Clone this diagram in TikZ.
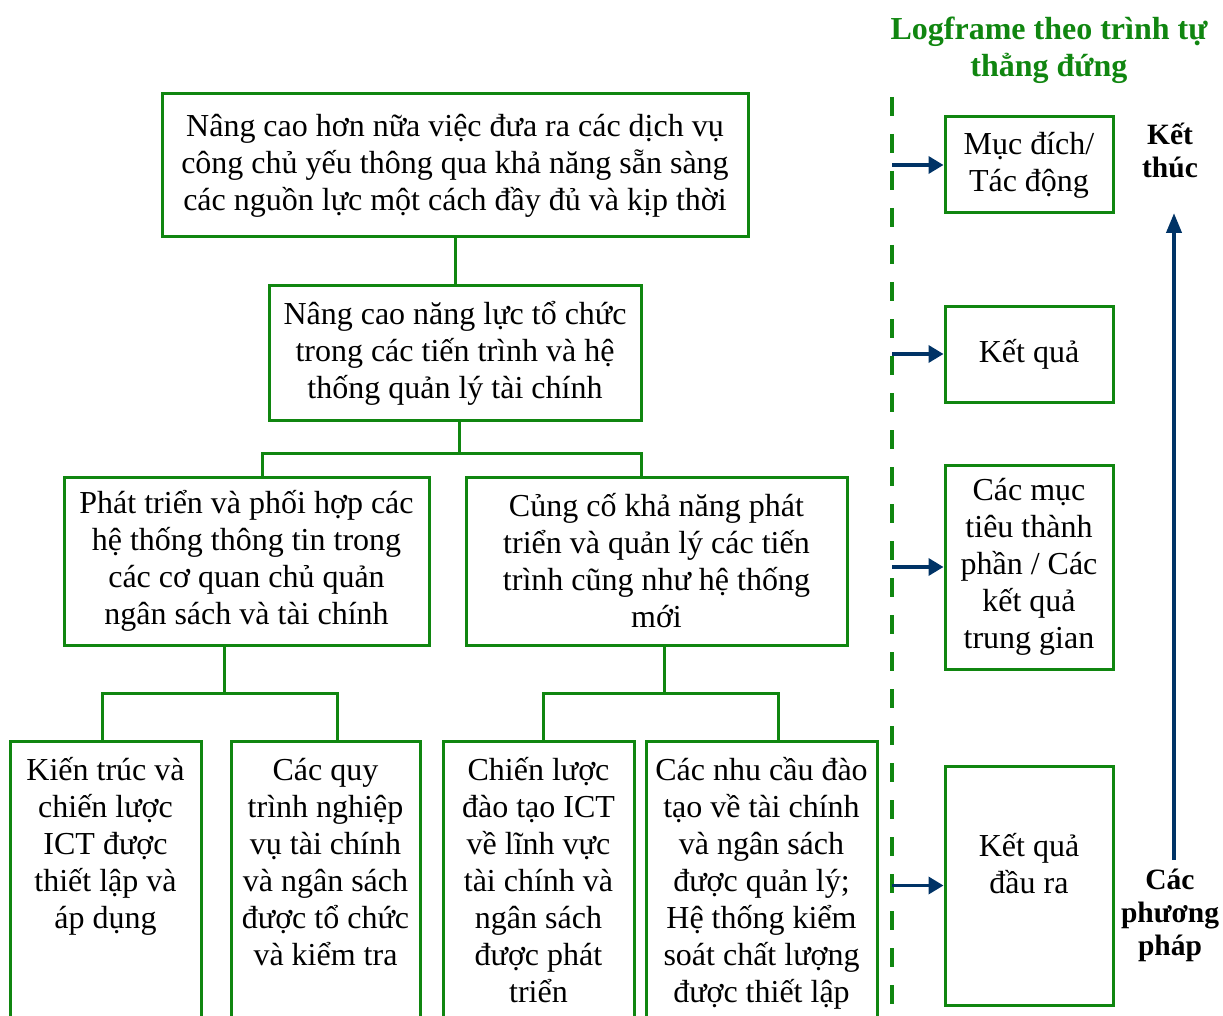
\documentclass[tikz,border=0pt]{standalone}
\usepackage{fontspec}
\setmainfont{Liberation Serif}
\usetikzlibrary{arrows.meta,calc}
\definecolor{boxgreen}{RGB}{16,134,16}
\definecolor{navy}{RGB}{0,51,102}
\tikzset{
  box/.style={draw=boxgreen, line width=3pt, inner sep=0pt, align=center,
              font=\fontsize{32}{37}\selectfont},
  txt/.style={inner sep=0pt, align=center, font=\fontsize{32}{37}\selectfont},
  side/.style={inner sep=0pt, align=center, font=\bfseries\fontsize{29.5}{33}\selectfont},
  heading/.style={inner sep=0pt, align=center, text=boxgreen,
              font=\bfseries\fontsize{32}{37}\selectfont},
  link/.style={draw=boxgreen, line width=3pt},
  guide/.style={draw=boxgreen, line width=4.5pt, dash pattern=on 19pt off 18pt},
  feed/.style={draw=navy, line width=3.5pt, -{Triangle[length=15pt,width=17pt]}},
  rise/.style={draw=navy, line width=4pt, -{Triangle[length=20pt,width=15pt]}},
}
\begin{document}
\begin{tikzpicture}[x=1pt,y=-1pt]
\useasboundingbox (0,0) rectangle (1223,1016);
\clip (0,0) rectangle (1223,1016);

% objective tree
\node[box, minimum width=586pt, minimum height=143pt] (b1) at (455,165.5)
  {Nâng cao hơn nữa việc đưa ra các dịch vụ\\công chủ yếu thông qua khả năng sẵn sàng\\các nguồn lực một cách đầy đủ và kịp thời};
\node[box, minimum width=372pt, minimum height=134pt] (b2) at (455,353)
  {Nâng cao năng lực tổ chức\\trong các tiến trình và hệ\\thống quản lý tài chính};
\node[box, minimum width=365pt, minimum height=168pt] (b3) at (246.5,561)
  {Phát triển và phối hợp các\\hệ thống thông tin trong\\các cơ quan chủ quản\\ngân sách và tài chính};
\node[box, minimum width=381pt, minimum height=168pt] (b4) at (656.5,561)
  {Củng cố khả năng phát\\triển và quản lý các tiến\\trình cũng như hệ thống\\mới};

% output boxes, running off the lower edge
\node[box, minimum width=191pt, minimum height=360pt] (b5) at (105.5,921) {};
\node[box, minimum width=189pt, minimum height=360pt] (b6) at (325.5,921) {};
\node[box, minimum width=191pt, minimum height=360pt] (b7) at (538.5,921) {};
\node[box, minimum width=231pt, minimum height=360pt] (b8) at (761.5,921) {};
% base anchor sits on the last line of each text
\node[txt, anchor=base] (t5) at (b5.center |- 0,928)
  {Kiến trúc và\\chiến lược\\ICT được\\thiết lập và\\áp dụng};
\node[txt, anchor=base] (t6) at (b6.center |- 0,965)
  {Các quy\\trình nghiệp\\vụ tài chính\\và ngân sách\\được tổ chức\\và kiểm tra};
\node[txt, anchor=base] (t7) at (b7.center |- 0,1002)
  {Chiến lược\\đào tạo ICT\\về lĩnh vực\\tài chính và\\ngân sách\\được phát\\triển};
\node[txt, anchor=base] (t8) at (b8.center |- 0,1002)
  {Các nhu cầu đào\\tạo về tài chính\\và ngân sách\\được quản lý;\\Hệ thống kiểm\\soát chất lượng\\được thiết lập};

% tree connectors
\draw[link] (b1.south) -- (b2.north);
\coordinate (j1) at (459,453);
\draw[link] (b2.south -| j1) -- (j1);
\draw[link] ([xshift=15.5pt]b3.north) |- (j1) -| ([xshift=-15.5pt]b4.north);
\coordinate (j2) at (224,693);
\draw[link] (b3.south -| j2) -- (j2);
\draw[link] ([xshift=-3.5pt]b5.north) |- (j2) -| ([xshift=11.5pt]b6.north);
\coordinate (j3) at (664,693);
\draw[link] (b4.south -| j3) -- (j3);
\draw[link] ([xshift=4.5pt]b7.north) |- (j3) -| ([xshift=16.5pt]b8.north);

% vertical logframe
\node[heading, anchor=base] (title) at (1049,77) {Logframe theo trình tự\\thẳng đứng};
\coordinate (gtop) at (892,97);
\coordinate (gbot) at (892,1030);
\draw[guide] (gtop) -- (gbot);

\node[box, minimum width=168pt, minimum height=96pt] (ra) at (1029,165) {Mục đích/\\Tác động};
\node[box, minimum width=168pt, minimum height=96pt] (rb) at (1029,354) {Kết quả};
\node[box, minimum width=168pt, minimum height=204pt] (rc) at (1029,567)
  {Các mục\\tiêu thành\\phần / Các\\kết quả\\trung gian};
\node[box, minimum width=168pt, minimum height=239pt] (rd) at (1029,885.5) {};
\node[txt, anchor=base] (td) at (1029,893) {Kết quả\\đầu ra};

\draw[feed] (ra.west -| gtop) -- (ra.west);
\draw[feed] (rb.west -| gtop) -- (rb.west);
\draw[feed] (rc.west -| gtop) -- (rc.west);
\draw[feed] (rd.west -| gtop) -- (rd.west);

\node[side, anchor=base] (endlbl) at (1170,178) {Kết\\thúc};
\node[side, anchor=base] (startlbl) at (1170,955) {Các\\phương\\pháp};
\coordinate (rbot) at (1174,860);
\coordinate (rtop) at (1174,213);
\draw[rise] (rbot) -- (rtop);
\end{tikzpicture}
\end{document}
